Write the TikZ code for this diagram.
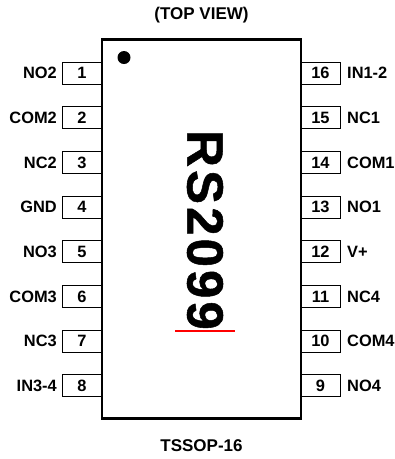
\documentclass[tikz,border=0pt]{standalone}
\usepackage{fontspec}
\setmainfont{Liberation Sans}
\begin{document}
\begin{tikzpicture}[x=1pt,y=-1pt,
  lbl/.style={font=\bfseries\fontsize{16.4}{18}\selectfont,inner sep=0pt,text=black},
  pinbox/.style={draw=black,line width=0.9pt,fill=white,minimum width=39.5pt,minimum height=22pt,inner sep=0pt,font=\bfseries\fontsize{16.4}{18}\selectfont},
  leftlbl/.style={lbl,anchor=east},
  rightlbl/.style={lbl,anchor=west},
  caption/.style={font=\bfseries\fontsize{17}{19}\selectfont,inner sep=0pt,text=black}]
\useasboundingbox (0,0) rectangle (395,459);
\fill[white] (0,0) rectangle (395,459);
% pins
\foreach \n/\t [count=\i from 0] in {1/NO2,2/COM2,3/NC2,4/GND,5/NO3,6/COM3,7/NC3,8/IN3-4}{
  \pgfmathsetmacro{\yy}{73+44.7*\i}
  \node[pinbox] (p\n) at (82,\yy) {\n};
  \node[leftlbl] (l\n) at (57,\yy) {\t};
}
\foreach \n/\t [count=\i from 0] in {16/IN1-2,15/NC1,14/COM1,13/NO1,12/V+,11/NC4,10/COM4,9/NO4}{
  \pgfmathsetmacro{\yy}{73+44.7*\i}
  \node[pinbox] (p\n) at (320.5,\yy) {\n};
  \node[rightlbl] (l\n) at (347,\yy) {\t};
}
% body
\node[draw=black,line width=2.2pt,fill=white,minimum width=198.5pt,minimum height=379pt,inner sep=0pt] (chip) at (201.5,229) {};
\node[circle,fill=black,minimum size=13pt,inner sep=0pt] (dot) at (124,57.5) {};
\node[inner sep=0pt,rotate=-90,font=\bfseries\fontsize{51}{56}\selectfont] (name) at (205,230) {\addfontfeature{LetterSpace=6,FakeBold=1}RS2099};
\coordinate (ra) at (175,331); \coordinate (rb) at (234.5,331);
\draw[red,line width=1.3pt] (ra) -- (rb);
\node[caption] (top) at (201.5,15.5) {(TOP VIEW)};
\node[caption] (pkg) at (201.5,446) {TSSOP-16};
\end{tikzpicture}
\end{document}
